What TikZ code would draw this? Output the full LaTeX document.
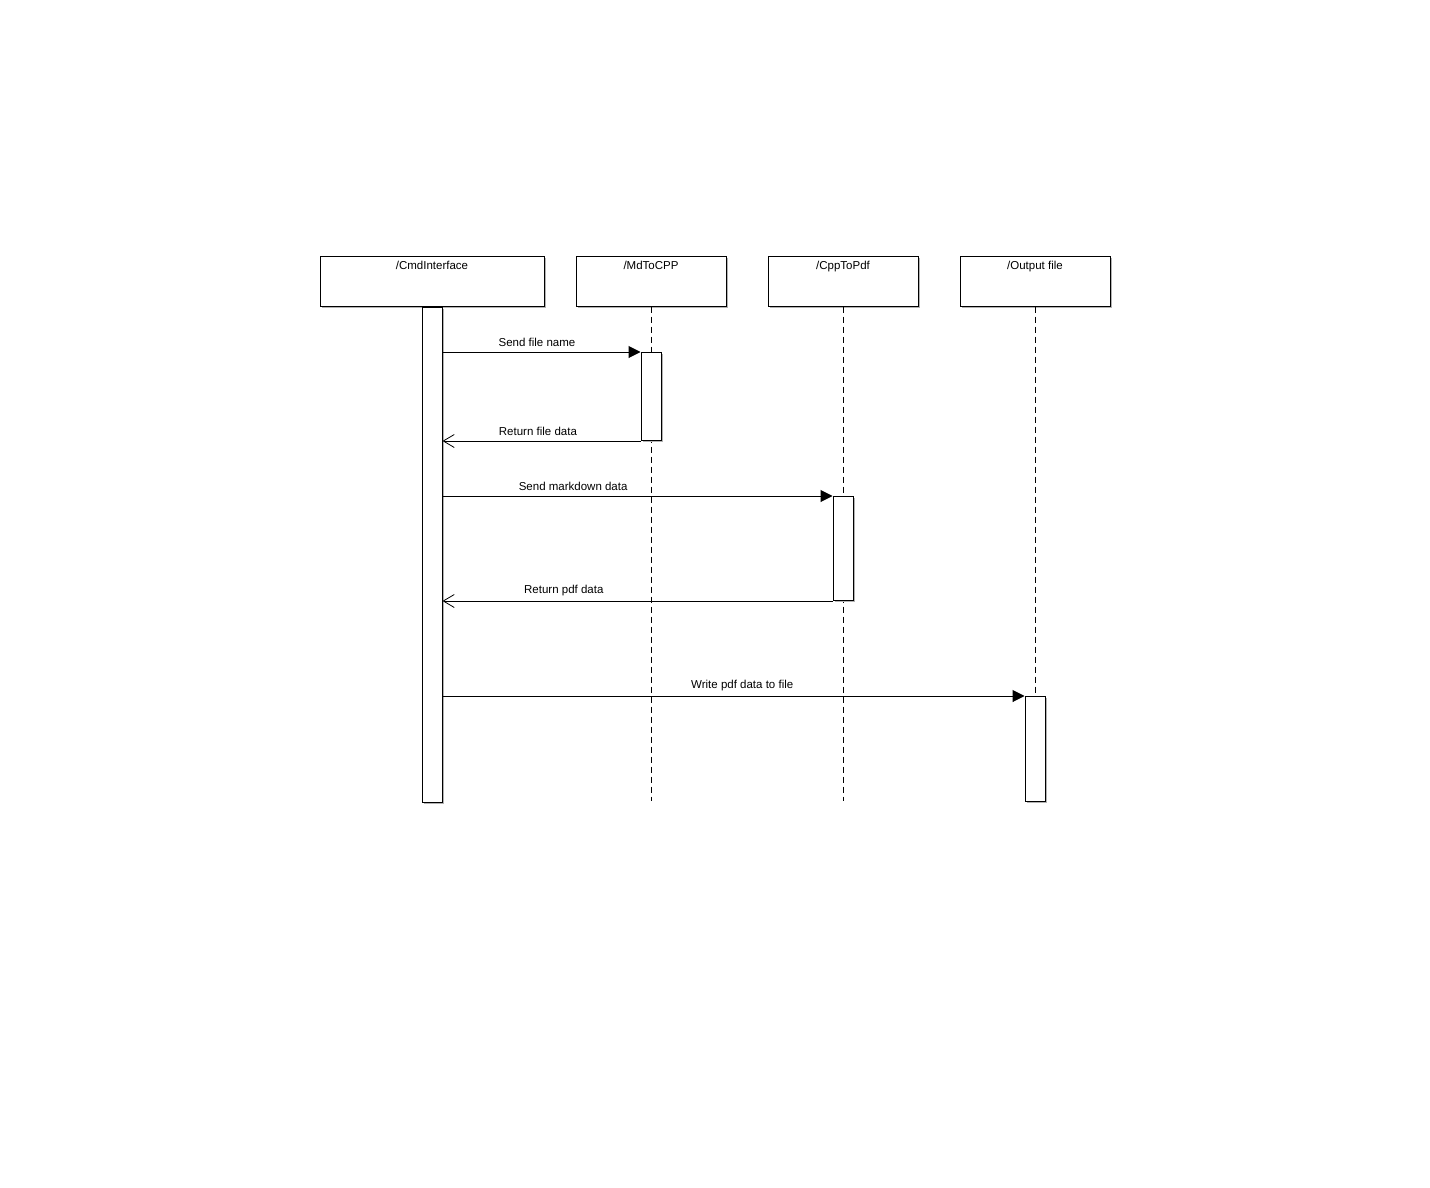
\documentclass[tikz,border=0pt]{standalone}
\usepackage{fontspec}
\setmainfont{Liberation Sans}
\usetikzlibrary{arrows.meta,shadows,positioning}

\begin{document}
\begin{tikzpicture}[x=1pt,y=-1pt,line width=1pt,
  obj node/.style={draw,fill=white,minimum height=50pt,inner sep=0pt,
    drop shadow={shadow xshift=1.5pt,shadow yshift=-1.5pt,fill=black!30,opacity=1}},
  act node/.style={draw,fill=white,minimum width=20pt,inner sep=0pt,anchor=north,
    drop shadow={shadow xshift=1.5pt,shadow yshift=-1.5pt,fill=black!30,opacity=1}},
  life/.style={dash pattern=on 6pt off 4pt},
  call/.style={-{Triangle[length=12pt,width=12pt]}},
  reply/.style={-{Straight Barb[length=11pt,width=13pt,line width=0.8pt]}},
  msg/.style={font=\fontsize{11.5}{13}\selectfont,above,inner sep=4.5pt},
  head/.style={font=\fontsize{11.5}{13}\selectfont,anchor=north,inner sep=5pt}]

  \fill[white] (0,0) rectangle (1430,1188);
  \useasboundingbox (0,0) rectangle (1430,1188);

  % objects
  \node[obj node,minimum width=224pt,label={[head]north:/CmdInterface}] (cmd) at (432,281) {};
  \node[obj node,minimum width=150pt,label={[head]north:/MdToCPP}] (md) at (651,281) {};
  \node[obj node,minimum width=150pt,label={[head]north:/CppToPdf}] (cpp) at (843,281) {};
  \node[obj node,minimum width=150pt,label={[head]north:/Output file}] (out) at (1035,281) {};

  % lifelines
  \coordinate (mdEnd) at (651,801);
  \coordinate (cppEnd) at (843,801);
  \coordinate (outEnd) at (1035,801);
  \draw[life] (md.south) -- (mdEnd);
  \draw[life] (cpp.south) -- (cppEnd);
  \draw[life] (out.south) -- (outEnd);

  % activations
  \node[act node,minimum height=495pt] (cmdAct) at (cmd.south) {};
  \node[act node,minimum height=88pt] (mdAct) at (651,352) {};
  \node[act node,minimum height=104pt] (cppAct) at (843,496) {};
  \node[act node,minimum height=105pt] (outAct) at (1035,696) {};

  % messages
  \draw[call] (cmdAct.east |- mdAct.north) -- node[msg,pos=0.477] {Send file name} (mdAct.north west);
  \draw[reply] (mdAct.south west) -- node[msg,pos=0.518] {Return file data} (cmdAct.east |- mdAct.south);
  \draw[call] (cmdAct.east |- cppAct.north) -- node[msg,pos=0.335] {Send markdown data} (cppAct.north west);
  \draw[reply] (cppAct.south west) -- node[msg,pos=0.689] {Return pdf data} (cmdAct.east |- cppAct.south);
  \draw[call] (cmdAct.east |- outAct.north) -- node[msg,pos=0.515] {Write pdf data to file} (outAct.north west);

\end{tikzpicture}
\end{document}
